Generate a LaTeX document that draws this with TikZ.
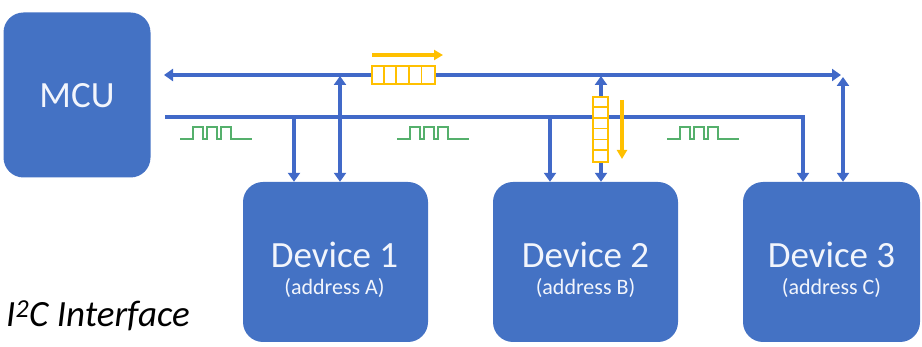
\documentclass[tikz,border=0pt]{standalone}
\usepackage{fontspec}
\setmainfont{Carlito}
\usetikzlibrary{arrows.meta}
\definecolor{boxblue}{HTML}{4472C4}
\definecolor{lineblue}{HTML}{4169C8}
\definecolor{pktyellow}{HTML}{FFC000}
\definecolor{wavegreen}{HTML}{55B06C}
\definecolor{boxtext}{HTML}{F2F5FC}
\tikzset{
  unit/.style={draw=none, fill=boxblue, rounded corners=20pt, inner sep=0pt},
  bus/.style={draw=lineblue, line width=3.5pt},
  tipb/.tip={Triangle[width=12pt,length=9pt]},
  tipy/.tip={Triangle[width=10pt,length=9pt]},
  pkt/.style={draw=pktyellow, fill=white, line width=1.8pt},
  flow/.style={draw=pktyellow, line width=4pt, -{tipy}},
  wave/.style={draw=wavegreen, line width=1.8pt},
  big/.style={text=boxtext, font=\fontsize{37}{42}\selectfont},
  small/.style={text=boxtext, font=\fontsize{22}{26}\selectfont},
}
\begin{document}
\begin{tikzpicture}[x=1pt,y=-1pt]
\useasboundingbox (0,0) rectangle (922,347);
% units
\node[unit, minimum width=147pt, minimum height=165pt] (mcu) at (77,95) {};
\node[big] (mcut) at (77,96) {MCU};
\node[unit, minimum width=185pt, minimum height=160pt] (dev1) at (335.5,262) {};
\node[unit, minimum width=185pt, minimum height=160pt] (dev2) at (585.5,262) {};
\node[unit, minimum width=177pt, minimum height=160pt] (dev3) at (831.5,262) {};
\node[big] (d1t) at (334.5,255) {Device 1};
\node[small] (d1a) at (334.5,288) {(address A)};
\node[big] (d2t) at (585.5,255) {Device 2};
\node[small] (d2a) at (585.5,288) {(address B)};
\node[big] (d3t) at (831.5,255) {Device 3};
\node[small] (d3a) at (831.5,288) {(address C)};
% bus coordinates
\coordinate (sdaL) at (164,75);
\coordinate (sdaR) at (841,75);
\coordinate (sclL) at (165,117);
\coordinate (sclR) at (803,117);
\coordinate (s1) at (294,117);
\coordinate (a1) at (340,76);
\coordinate (s2) at (550,117);
\coordinate (a2) at (601,76);
\coordinate (a3) at (843,77);
% SDA line
\draw[bus, {tipb}-{tipb}] (sdaR) -- (sdaL);
% SCL line
\draw[bus, -{tipb}] (sclL) -- (sclR) -- (sclR |- dev3.north);
\draw[bus, -{tipb}] (s1) -- (s1 |- dev1.north);
\draw[bus, -{tipb}] (s2) -- (s2 |- dev2.north);
\draw[bus, {tipb}-{tipb}] (a1) -- (a1 |- dev1.north);
\draw[bus, {tipb}-{tipb}] (a2) -- (a2 |- dev2.north);
\draw[bus, {tipb}-{tipb}] (a3) -- (a3 |- dev3.north);
% horizontal packet
\node[pkt, minimum width=63pt, minimum height=18pt, inner sep=0pt] (hp) at (403.5,75) {};
\foreach \i in {1,...,4} \draw[pktyellow, line width=1.8pt] ([xshift=\i*12.6pt]hp.north west) -- ([xshift=\i*12.6pt]hp.south west);
\coordinate (hfa) at (372,55);
\coordinate (hfb) at (443,55);
\draw[flow] (hfa) -- (hfb);
% vertical packet
\node[pkt, minimum width=15pt, minimum height=65pt, inner sep=0pt] (vp) at (600.5,129.5) {};
\foreach \i in {1,...,5} \draw[pktyellow, line width=1.8pt] ([yshift=-\i*10.833pt]vp.north west) -- ([yshift=-\i*10.833pt]vp.north east);
\coordinate (vfa) at (622,100);
\coordinate (vfb) at (622,159);
\draw[flow] (vfa) -- (vfb);
% clock waveforms
\foreach \x [count=\k] in {180,397,667} {
  \coordinate (w\k) at (\x,139);
  \draw[wave] (w\k) -- ++(13,0) -- ++(0,-12) -- ++(10,0) -- ++(0,12) -- ++(4,0) -- ++(0,-12) -- ++(10,0) -- ++(0,12) -- ++(4,0) -- ++(0,-12) -- ++(10,0) -- ++(0,12) -- ++(21,0);
}
% caption
\node[anchor=base west, inner sep=0pt, font=\fontsize{37}{42}\selectfont\itshape] (cap) at (6,327) {I\textsuperscript{2}C Interface};
\end{tikzpicture}
\end{document}
